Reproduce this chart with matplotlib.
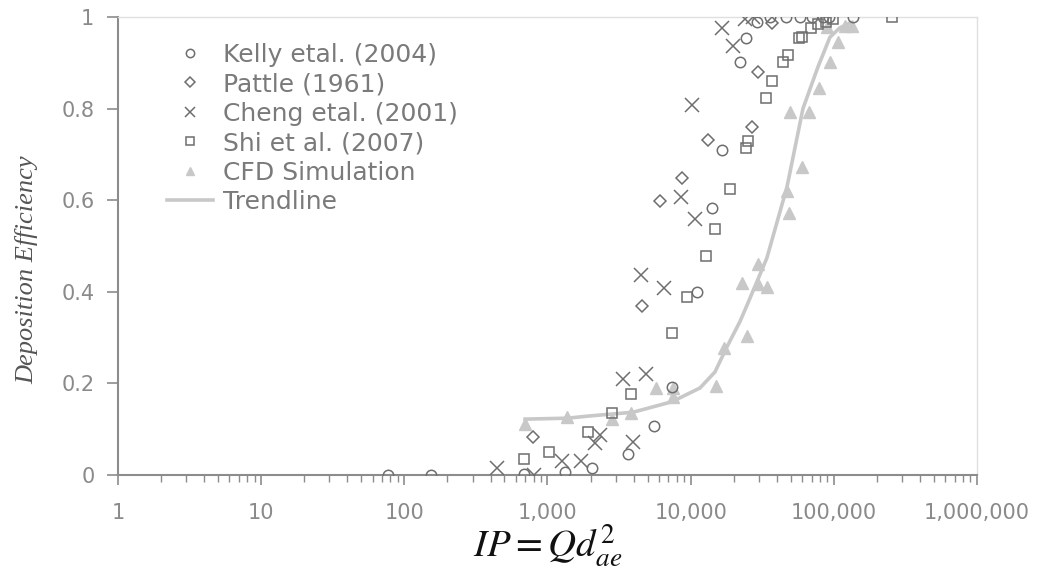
import numpy as np
import matplotlib.pyplot as plt
from matplotlib.ticker import FixedLocator, LogLocator, NullFormatter

plt.rcParams["mathtext.fontset"] = "stix"

# Kelly etal. (2004)
kelly_x = [77, 153, 690, 1330, 2050, 3650, 5540, 7400, 11100, 14100, 16500, 22100,
           24300, 29000, 35800, 46400, 58000, 70400, 84000, 92500, 136000]
kelly_y = [0, 0, 0.002, 0.007, 0.015, 0.046, 0.107, 0.192, 0.40, 0.583, 0.71, 0.902,
           0.954, 0.99, 1, 1, 1, 1, 1, 1, 1]
# Pattle (1961)
pattle_x = [790, 4570, 6110, 8700, 13200, 26800, 29500, 37000]
pattle_y = [0.083, 0.369, 0.598, 0.648, 0.731, 0.76, 0.88, 0.987]
# Cheng etal. (2001)
cheng_x = [444, 805, 1262, 1714, 2148, 2326, 3366, 3955, 4500, 4875, 6510, 8560,
           10200, 10720, 16550, 19770, 23930, 27200]
cheng_y = [0.015, 0.0, 0.031, 0.031, 0.069, 0.087, 0.21, 0.072, 0.437, 0.22, 0.408, 0.607,
           0.808, 0.559, 0.976, 0.937, 0.995, 1.0]
# Shi et al. (2007)
shi_x = [685, 1024, 1918, 2820, 3830, 7410, 9420, 12790, 14790, 18820, 24330, 25000,
         33580, 37000, 44150, 47840, 57000, 59500, 69200, 77500, 88100, 98600, 255000]
shi_y = [0.035, 0.05, 0.094, 0.135, 0.177, 0.31, 0.389, 0.478, 0.537, 0.624, 0.714, 0.729,
         0.823, 0.86, 0.902, 0.917, 0.954, 0.956, 0.976, 0.985, 0.989, 0.996, 1.0]
# CFD Simulation
cfd_x = [697, 1368, 2820, 3830, 5725, 7530, 7530, 15030, 17100, 22800, 24700, 29500, 29500,
         34100, 47100, 48600, 49400, 59900, 67000, 78700, 89600, 94000, 107000, 119700, 134000]
cfd_y = [0.111, 0.127, 0.122, 0.135, 0.19, 0.19, 0.171, 0.194, 0.277, 0.419, 0.303, 0.461, 0.417,
         0.41, 0.62, 0.572, 0.793, 0.672, 0.793, 0.845, 0.978, 0.902, 0.945, 0.98, 0.98]
# Trendline
trend_x = [697, 1368, 1982, 3955, 7410, 11620, 14790, 17950, 22100, 25100, 34100, 47100,
           60900, 77500, 94000, 110000, 129700]
trend_y = [0.122, 0.124, 0.129, 0.137, 0.16, 0.19, 0.225, 0.28, 0.335, 0.375, 0.474, 0.629,
           0.80, 0.891, 0.956, 0.976, 0.987]

xticks = [1, 10, 100, 1000, 10000, 100000, 1000000]
xtick_labels = ["1", "10", "100", "1,000", "10,000", "100,000", "1,000,000"]
yticks = [0, 0.2, 0.4, 0.6, 0.8, 1]
ytick_labels = ["0", "0.2", "0.4", "0.6", "0.8", "1"]

dark = "#6e6e6e"
light = "#c8c8c8"
txt = "#8a8a8a"

fig = plt.figure(figsize=(10.37, 5.78), dpi=100)
ax = fig.add_axes([0.1138, 0.1782, 0.8283, 0.7924])

ax.plot(trend_x, trend_y, color=light, lw=2.6, label="Trendline", zorder=2)
ax.plot(kelly_x, kelly_y, ls="none", marker="o", ms=7.5, mfc="none", mec=dark, mew=1.1,
        label="Kelly etal. (2004)", zorder=3)
ax.plot(pattle_x, pattle_y, ls="none", marker="D", ms=6.5, mfc="none", mec=dark, mew=1.1,
        label="Pattle (1961)", zorder=3)
ax.plot(cheng_x, cheng_y, ls="none", marker="x", ms=9.5, mec=dark, mew=1.1,
        label="Cheng etal. (2001)", zorder=3)
ax.plot(shi_x, shi_y, ls="none", marker="s", ms=6.5, mfc="none", mec=dark, mew=1.1,
        label="Shi et al. (2007)", zorder=3)
ax.plot(cfd_x, cfd_y, ls="none", marker="^", ms=8, mfc=light, mec=light,
        label="CFD Simulation", zorder=2)

ax.set_xscale("log")
ax.set_xlim(1, 1000000)
ax.set_ylim(0, 1)

ax.xaxis.set_major_locator(FixedLocator(xticks))
ax.set_xticklabels(xtick_labels)
ax.xaxis.set_minor_locator(LogLocator(base=10, subs=np.arange(2, 10)))
ax.xaxis.set_minor_formatter(NullFormatter())
ax.set_yticks(yticks)
ax.set_yticklabels(ytick_labels)

ax.tick_params(axis="x", which="major", direction="out", length=7, width=1.2, color="#8c8c8c",
               labelsize=15, labelcolor=txt, pad=13)
ax.tick_params(axis="x", which="minor", direction="out", length=5, width=1.0, color="#8c8c8c")
ax.tick_params(axis="y", direction="out", length=8, width=1.2, color="#8c8c8c",
               labelsize=15, labelcolor=txt, pad=9)

for s in ["left", "bottom"]:
    ax.spines[s].set_color("#8c8c8c")
    ax.spines[s].set_linewidth(1.5)
for s in ["top", "right"]:
    ax.spines[s].set_color("#e0e0e0")
    ax.spines[s].set_linewidth(1.0)

handles, labels = ax.get_legend_handles_labels()
order = [1, 2, 3, 4, 5, 0]
leg = ax.legend([handles[i] for i in order], [labels[i] for i in order],
                loc="upper left", bbox_to_anchor=(0.057, 0.944), frameon=False,
                fontsize=18, labelspacing=0.22, handlelength=1.85, handletextpad=0.4,
                borderpad=0, borderaxespad=0, markerscale=0.8)
for t in leg.get_texts():
    t.set_color("#7a7a7a")

fig.text(27 / 1037, 1 - 270 / 578, "Deposition Efficiency", rotation=90, ha="center", va="center",
         family="Liberation Serif", style="italic", fontsize=19, color="#555555")
fig.text(548 / 1037, 1 - 546 / 578, r"$IP = Qd_{ae}^{2}$", ha="center", va="center",
         fontsize=28, color="#111111")

fig.savefig("out.png", dpi=100)
